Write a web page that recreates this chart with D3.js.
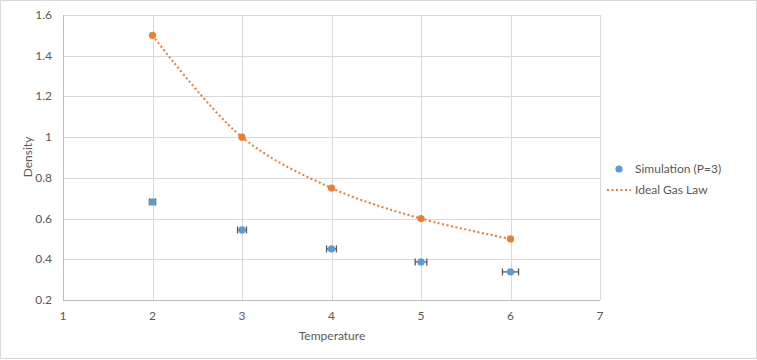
<!DOCTYPE html>
<html><head><meta charset="utf-8">
<script src="https://cdn.jsdelivr.net/npm/d3@7"></script>
<style>body{margin:0;background:#fff}svg{display:block}text{font-family:Lato,"Open Sans",sans-serif}</style>
</head><body>
<svg id="c" width="757" height="360"></svg>
<script>
const temps = [2, 3, 4, 5, 6];
const simDensity = [0.682, 0.544, 0.451, 0.387, 0.338];
const simTempErr = [0.035, 0.05, 0.055, 0.065, 0.09];
const idealDensity = [1.5, 1.0, 0.75, 0.6, 0.5];
const xTicks = [1, 2, 3, 4, 5, 6, 7];
const yTicks = [0.2, 0.4, 0.6, 0.8, 1.0, 1.2, 1.4, 1.6];
const legendLabels = ["Simulation (P=3)", "Ideal Gas Law"];

const svg = d3.select("#c");
svg.append("rect").attr("x",0.5).attr("y",0.5).attr("width",756).attr("height",358)
  .attr("fill","#fff").attr("stroke","#d9d9d9");

const x = d3.scaleLinear().domain([1,7]).range([63,600]);
const y = d3.scaleLinear().domain([0.2,1.6]).range([300,15]);

// grid
const g = svg.append("g");
g.selectAll(".hg").data(yTicks.slice(1)).join("line")
  .attr("x1",x(1)).attr("x2",x(7)).attr("y1",d=>Math.round(y(d))+0.5).attr("y2",d=>Math.round(y(d))+0.5)
  .attr("stroke","#d9d9d9");
g.selectAll(".vg").data(xTicks.slice(1)).join("line")
  .attr("y1",y(0.2)).attr("y2",y(1.6)).attr("x1",d=>Math.round(x(d))+0.5).attr("x2",d=>Math.round(x(d))+0.5)
  .attr("stroke","#d9d9d9");
// axes lines
svg.append("line").attr("x1",Math.round(x(1))+0.5).attr("x2",Math.round(x(1))+0.5).attr("y1",y(0.2)).attr("y2",y(1.6)).attr("stroke","#bfbfbf");
svg.append("line").attr("x1",x(1)).attr("x2",x(7)).attr("y1",Math.round(y(0.2))+0.5).attr("y2",Math.round(y(0.2))+0.5).attr("stroke","#bfbfbf");

// tick labels
svg.selectAll(".yl").data(yTicks).join("text")
  .attr("x",52).attr("y",d=>y(d)+4).attr("text-anchor","end")
  .attr("font-size",12).attr("fill","#595959").text(d=>d3.format("~g")(d));
svg.selectAll(".xl").data(xTicks).join("text")
  .attr("x",d=>x(d)).attr("y",320).attr("text-anchor","middle")
  .attr("font-size",12).attr("fill","#595959").text(d=>d);

// axis titles
svg.append("text").attr("x",332).attr("y",340).attr("text-anchor","middle")
  .attr("font-size",12).attr("fill","#595959").text("Temperature");
svg.append("text").attr("transform","translate(32,157) rotate(-90)").attr("text-anchor","middle")
  .attr("font-size",12).attr("fill","#595959").text("Density");

// ideal line
const line = d3.line().x((d,i)=>x(temps[i])).y(d=>y(d)).curve(d3.curveCatmullRom.alpha(0.5));
svg.append("path").attr("d",line(idealDensity)).attr("fill","none")
  .attr("stroke","#ED7D31").attr("stroke-width",2).attr("stroke-dasharray","2,2.5");
svg.selectAll(".ip").data(idealDensity).join("circle")
  .attr("cx",(d,i)=>x(temps[i])).attr("cy",d=>y(d)).attr("r",3.6).attr("fill","#ED7D31");

// error bars
const eb = svg.append("g").attr("stroke","#595959").attr("stroke-width",1.3);
temps.forEach((t,i)=>{
  const cy = y(simDensity[i]);
  const x0 = x(t-simTempErr[i]), x1 = x(t+simTempErr[i]);
  eb.append("line").attr("x1",x0).attr("x2",x1).attr("y1",cy).attr("y2",cy);
  eb.append("line").attr("x1",x0).attr("x2",x0).attr("y1",cy-3.5).attr("y2",cy+3.5);
  eb.append("line").attr("x1",x1).attr("x2",x1).attr("y1",cy-3.5).attr("y2",cy+3.5);
});
svg.selectAll(".sp").data(simDensity).join("circle")
  .attr("cx",(d,i)=>x(temps[i])).attr("cy",d=>y(d)).attr("r",3.6).attr("fill","#5B9BD5");

// legend
svg.append("circle").attr("cx",619).attr("cy",169).attr("r",3.6).attr("fill","#5B9BD5");
svg.append("text").attr("x",635).attr("y",173).attr("font-size",12).attr("fill","#595959").text(legendLabels[0]);
svg.append("line").attr("x1",607).attr("x2",631).attr("y1",190).attr("y2",190)
  .attr("stroke","#ED7D31").attr("stroke-width",2).attr("stroke-dasharray","2,2.5");
svg.append("text").attr("x",635).attr("y",194).attr("font-size",12).attr("fill","#595959").text(legendLabels[1]);
</script>
</body></html>
